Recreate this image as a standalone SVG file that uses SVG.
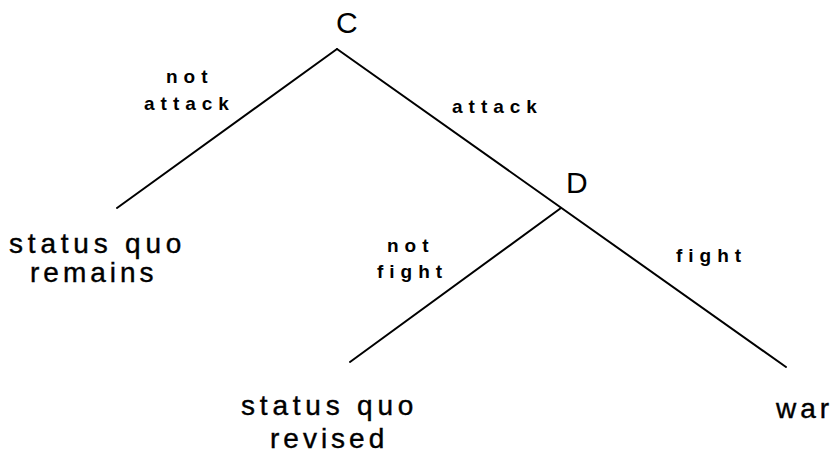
<svg xmlns="http://www.w3.org/2000/svg" width="833" height="456" viewBox="0 0 833 456">
<style>
.bg{fill:#fff}
.edge{stroke:#000;stroke-width:2;fill:none;stroke-linecap:round;stroke-linejoin:round}
.node{font-family:"Liberation Sans",Arial,sans-serif;font-size:30px;fill:#000}
.out{font-family:"Liberation Sans",Arial,sans-serif;font-size:28px;letter-spacing:4px;fill:#000;stroke:#000;stroke-width:0.4}
.wide{letter-spacing:4.8px}
.lab{font-family:"Liberation Sans",Arial,sans-serif;font-size:19px;font-weight:bold;letter-spacing:6px;fill:#000}
</style>
<rect class="bg" x="0" y="0" width="833" height="456"/>
<g id="connectors">
<path class="edge" d="M337,49 L117,208"/>
<path class="edge" d="M337,49 L786,367"/>
<path class="edge" d="M561,208 L350,362"/>
</g>
<g id="edge-labels">
<text class="lab" x="166" y="83">not</text>
<text class="lab" x="144" y="110">attack</text>
<text class="lab" x="452" y="113">attack</text>
<text class="lab" x="387" y="252">not</text>
<text class="lab" x="377" y="278">fight</text>
<text class="lab" x="676" y="262">fight</text>
</g>
<g id="node-C"><text class="node" x="336" y="33">C</text></g>
<g id="node-D"><text class="node" x="566" y="193">D</text></g>
<g id="leaf-remains">
<text class="out wide" x="9" y="253">status quo</text>
<text class="out" x="30" y="282">remains</text>
</g>
<g id="leaf-revised">
<text class="out wide" x="241" y="415">status quo</text>
<text class="out" x="270" y="448">revised</text>
</g>
<g id="leaf-war"><text class="out" x="776" y="418">war</text></g>
</svg>
